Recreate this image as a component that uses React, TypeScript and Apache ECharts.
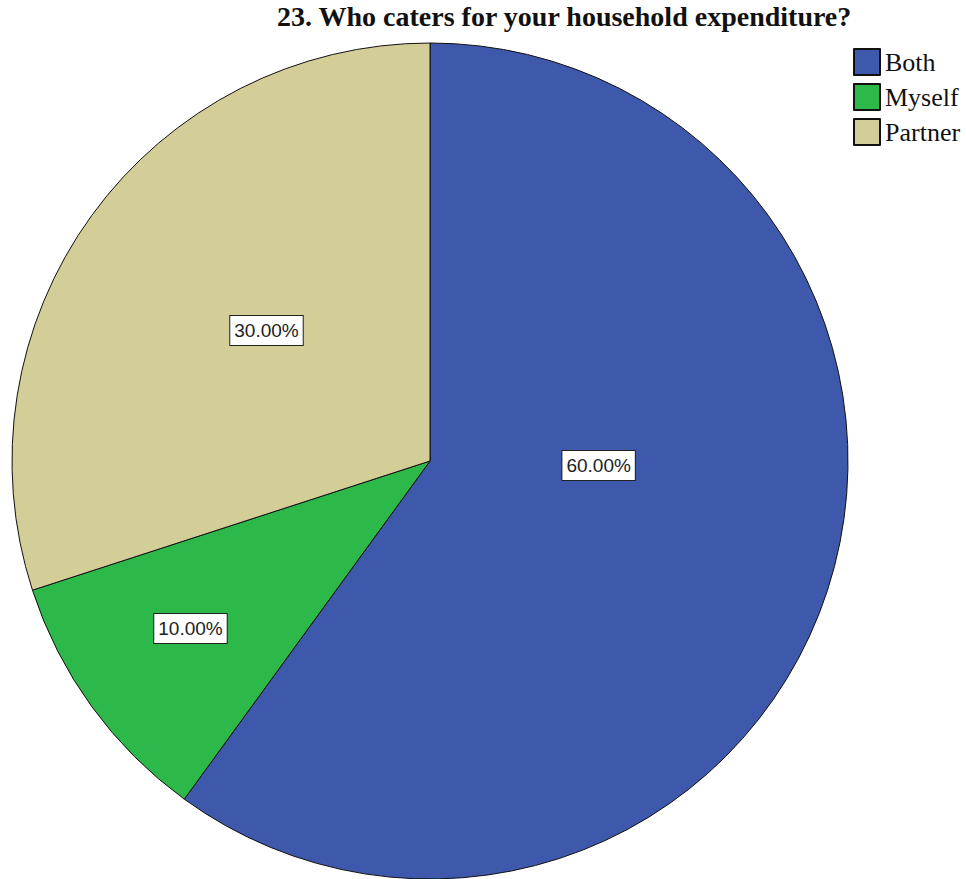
import React, { useEffect, useRef } from "react";
import * as echarts from "echarts";

const titleText = "23. Who caters for your household expenditure?";
const categories = ["Both", "Myself", "Partner"];
const percentages = [60, 10, 30];
const sliceColors = ["#3e58ac", "#2db84a", "#d3ce97"];
// label nudges (px) relative to ECharts' default "inside" position
const labelNudges: [number, number][] = [
  [-33, -61],
  [-68, 43],
  [8, -6],
];

export default function App() {
  const ref = useRef<HTMLDivElement>(null);
  useEffect(() => {
    if (!ref.current) return;
    const chart = echarts.init(ref.current, undefined, { renderer: "svg" });
    chart.setOption({
      animation: false,
      backgroundColor: "#ffffff",
      title: {
        text: titleText,
        left: 277,
        top: 2,
        padding: 0,
        textStyle: {
          fontFamily: "'Liberation Serif', 'Times New Roman', serif",
          fontWeight: "bold",
          fontSize: 28,
          color: "#111",
        },
      },
      legend: {
        orient: "vertical",
        left: 853,
        top: 48,
        padding: 0,
        itemWidth: 26,
        itemHeight: 26,
        itemGap: 7,
        icon: "rect",
        data: categories,
        textStyle: {
          fontFamily: "'Liberation Serif', 'Times New Roman', serif",
          fontSize: 26,
          lineHeight: 26,
          color: "#111",
        },
      },
      series: [
        {
          type: "pie",
          center: [430, 461],
          radius: 418,
          startAngle: 90,
          clockwise: true,
          avoidLabelOverlap: false,
          data: categories.map((c, i) => ({
            name: c,
            value: percentages[i],
            itemStyle: { color: sliceColors[i] },
          })),
          itemStyle: { borderColor: "#111", borderWidth: 1 },
          emphasis: { disabled: true },
          label: {
            show: true,
            position: "inside",
            formatter: (p: any) => p.value.toFixed(2) + "%",
            fontFamily: "'Liberation Sans', Arial, sans-serif",
            fontSize: 19,
            lineHeight: 19,
            color: "#222",
            backgroundColor: "#ffffff",
            borderColor: "#222",
            borderWidth: 1,
            padding: [5, 4],
          },
          labelLine: { show: false },
          labelLayout: (params: any) => ({
            dx: labelNudges[params.dataIndex][0],
            dy: labelNudges[params.dataIndex][1],
          }),
        },
      ],
    });
    return () => chart.dispose();
  }, []);
  return (
    <div
      ref={ref}
      style={{ position: "fixed", left: 0, top: 0, width: 966, height: 879 }}
    />
  );
}
